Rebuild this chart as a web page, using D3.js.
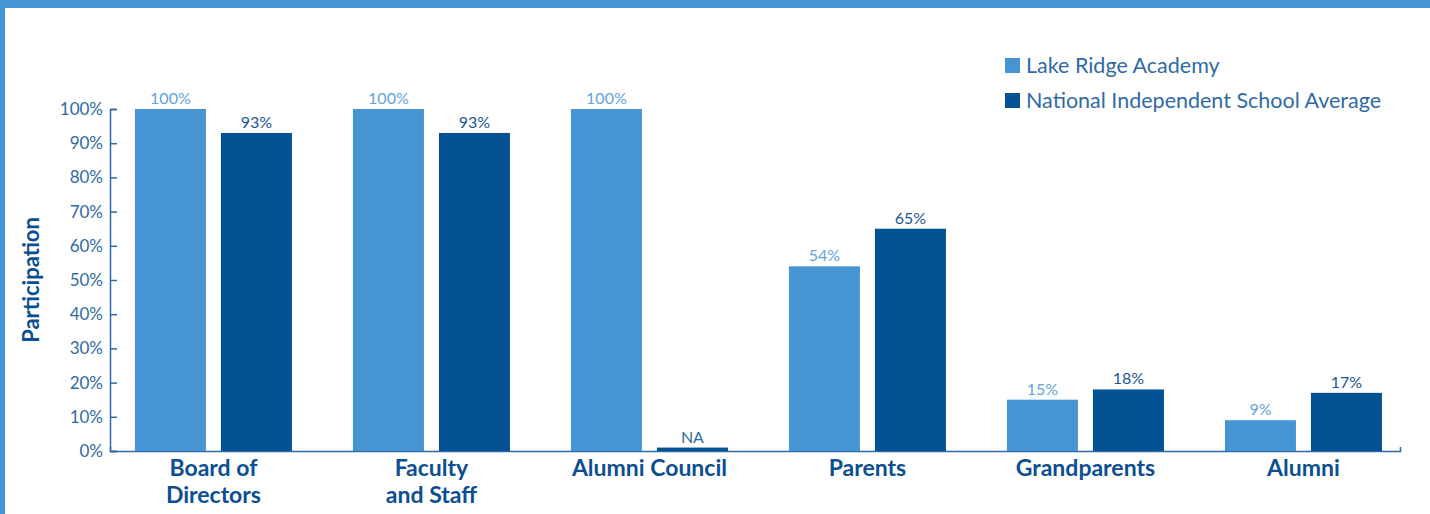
<!DOCTYPE html>
<html><head><meta charset="utf-8">
<script src="https://cdn.jsdelivr.net/npm/d3@7"></script>
<style>
html,body{margin:0;padding:0;background:#fff;}
svg{display:block;font-family:Lato,"Open Sans",sans-serif;}
</style></head>
<body><svg id="c" width="1430" height="514"></svg>
<script>
const categories = [["Board of","Directors"],["Faculty","and Staff"],["Alumni Council"],["Parents"],["Grandparents"],["Alumni"]];
const seriesNames = ["Lake Ridge Academy","National Independent School Average"];
const lakeValues = [100,100,100,54,15,9];
const nationalValues = [93,93,1,65,18,17];
const lakeLabels = ["100%","100%","100%","54%","15%","9%"];
const nationalLabels = ["93%","93%","NA","65%","18%","17%"];
const yTicks = [0,10,20,30,40,50,60,70,80,90,100];

(function(){
const lightBlue = "#4695d2", darkBlue = "#045294", textBlue = "#2f6aa5", catBlue = "#0b4f92";
const svg = d3.select("#c");

// frame
svg.append("rect").attr("x",0).attr("y",0).attr("width",1430).attr("height",8).attr("fill",lightBlue);
svg.append("rect").attr("x",0).attr("y",0).attr("width",5).attr("height",514).attr("fill",lightBlue);

const mLeft = 110, mRight = 1400, mTop = 109, mBottom = 451;
const y = d3.scaleLinear().domain([0,100]).range([mBottom, mTop]);
const keys = categories.map((c,i)=>i);
const x0 = d3.scaleBand().domain(keys).range([mLeft,mRight]).paddingInner(0.2798).paddingOuter(0.0986).align(0.58);
const x1 = d3.scaleBand().domain([0,1]).range([0,x0.bandwidth()]).paddingInner(0.1744);

// y axis
const yAxis = d3.axisLeft(y).tickValues(yTicks).tickFormat(d=>d+"%").tickSize(-7).tickPadding(7);
const gy = svg.append("g").attr("transform",`translate(${mLeft},0)`).call(yAxis);
gy.select(".domain").attr("stroke",textBlue).attr("stroke-width",1.5);
gy.selectAll(".tick line").attr("stroke",textBlue).attr("stroke-width",1.5);
gy.selectAll(".tick text").attr("fill",textBlue).attr("font-size",17).attr("font-family","Lato,sans-serif");

// x axis
const xAxisScale = d3.scaleLinear().domain([0,1]).range([mLeft,mRight]);
const xAxis = d3.axisBottom(xAxisScale).tickValues([]).tickSizeOuter(-4);
const gx = svg.append("g").attr("transform",`translate(0,${mBottom})`).call(xAxis);
gx.select(".domain").attr("stroke",textBlue).attr("stroke-width",1.5);

// bars
const series = [
  {vals: lakeValues, labels: lakeLabels, color: lightBlue, lc: "#5fa3dc"},
  {vals: nationalValues, labels: nationalLabels, color: darkBlue, lc: "#1d5593"}
];
series.forEach((s,si)=>{
  const g = svg.append("g");
  g.selectAll("rect").data(s.vals).join("rect")
    .attr("x",(d,i)=>x0(i)+x1(si)).attr("width",x1.bandwidth())
    .attr("y",d=>y(d)).attr("height",d=>y(0)-y(d)).attr("fill",s.color);
  g.selectAll("text").data(s.vals).join("text")
    .attr("x",(d,i)=>x0(i)+x1(si)+x1.bandwidth()/2).attr("y",d=>y(d)-5)
    .attr("text-anchor","middle").attr("font-size",16).attr("fill",(d,i)=>s.labels[i]==="NA"?textBlue:s.lc)
    .text((d,i)=>s.labels[i]);
});

// category labels
categories.forEach((lines,i)=>{
  const cx = x0(i)+x0.bandwidth()/2;
  const t = svg.append("text").attr("x",cx).attr("y",476)
    .attr("text-anchor","middle").attr("font-size",23).attr("font-weight","bold").attr("fill",catBlue);
  lines.forEach((l,j)=>t.append("tspan").attr("x",cx).attr("dy",j?27:0).text(l));
});

// y title
svg.append("text").attr("transform","translate(39,280) rotate(-90)").attr("text-anchor","middle")
  .attr("font-size",22).attr("font-weight","bold").attr("fill",catBlue).text("Participation");

// legend
const lg = svg.append("g").attr("transform","translate(1005,58)");
seriesNames.forEach((n,i)=>{
  lg.append("rect").attr("x",0).attr("y",i*35).attr("width",15).attr("height",15).attr("fill",series[i].color);
  lg.append("text").attr("x",21).attr("y",i*35+7.5).attr("dy","0.35em").attr("font-size",21.5).attr("fill",textBlue).text(n);
});
})();
</script></body></html>
